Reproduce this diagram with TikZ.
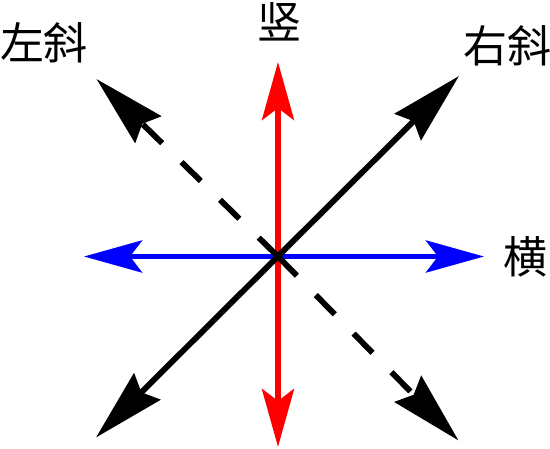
\documentclass[tikz,border=0pt]{standalone}
\usepackage{fontspec}
\newfontfamily\cjk{Noto Sans CJK SC}
\usetikzlibrary{arrows.meta}
\definecolor{vred}{RGB}{255,0,0}
\definecolor{hblue}{RGB}{0,0,255}
\tikzset{
  colarrow/.style={line width=5.8pt, {Stealth[length=58pt,width=32pt,inset=12pt]}-{Stealth[length=58pt,width=32pt,inset=12pt]}},
  blkarrow/.style={line width=5.8pt, black, {Stealth[length=72pt,width=37pt,inset=8pt]}-{Stealth[length=72pt,width=37pt,inset=8pt]}},
  dasharrow/.style={line width=5.8pt, black, dash pattern=on 27pt off 27pt, -{Stealth[length=72pt,width=37pt,inset=8pt]}},
  lbl/.style={inner sep=0pt, font=\cjk\fontsize{44pt}{44pt}\selectfont}
}
\begin{document}
\begin{tikzpicture}[x=1pt,y=-1pt]
\useasboundingbox (0,0) rectangle (550,449);
\coordinate (O) at (278,256.5);
\coordinate (vt) at (278,62);
\coordinate (vb) at (278,447);
\coordinate (hl) at (84,256.5);
\coordinate (hr) at (484,256.5);
\coordinate (ll) at (96,437.5);
\coordinate (ur) at (459,76);
\coordinate (ul) at (96.5,79);
\coordinate (lr) at (458.5,440.5);
\draw[colarrow, vred] (vb) -- (vt);
\draw[colarrow, hblue] (hl) -- (hr);
\draw[dasharrow] (O) -- (ul);
\draw[dasharrow] (O) -- (lr);
\draw[blkarrow] (ll) -- (ur);
\node[lbl] (shu) at (279,22) {竖};
\node[lbl] (zuoxie) at (44,43) {左斜};
\node[lbl] (youxie) at (507,46) {右斜};
\node[lbl] (heng) at (525,257) {横};
\end{tikzpicture}
\end{document}
